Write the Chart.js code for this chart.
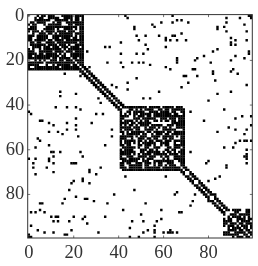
<!DOCTYPE html>
<html><head><meta charset="utf-8">
<script src="https://cdn.jsdelivr.net/npm/chart.js@4"></script>
<style>html,body{margin:0;padding:0;background:#fff}#c{display:block}</style>
</head><body><canvas id="c" width="258" height="266"></canvas>
<script>
const tickValues = [0,20,40,60,80];
const blocks = [[0,24],[41,69],[88,99]];
const bandOffsets = [1,2];
const bandGaps = [[70,71],[74,75],[81,82]];
const scatterA = [[16,26],[14,34],[14,36],[21,35],[12,41],[17,41],[21,41],[23,42],[23,27],[0,43],[1,44],[5,47],[6,47],[9,48],[11,49],[17,48],[21,46],[21,49],[17,51],[9,52],[13,52],[21,51]];
const scatterB = [[15,53],[22,54],[4,55],[5,56],[3,59],[9,58],[10,61],[11,61],[14,61],[23,61],[24,63],[11,63],[9,64],[9,65],[11,66],[0,64],[3,64],[2,66],[2,68],[8,68],[11,70],[3,71],[19,66],[20,66],[21,66],[24,73],[24,74],[20,74],[19,75],[18,78],[21,81],[16,82],[15,84],[5,84],[6,84],[1,88],[3,88],[5,87],[7,88],[10,90],[12,90],[13,90],[11,92],[13,92],[20,90],[18,92],[24,91],[1,94],[4,96],[7,97],[11,97],[19,96],[16,98],[17,98],[0,98],[0,99],[1,99]];
const scatterC = [[25,82],[26,82],[26,93],[25,90],[27,69],[27,70],[27,75],[28,48],[29,83],[30,71],[31,97],[32,68],[34,58],[34,90],[35,84],[37,51],[37,54],[38,80],[30,44],[33,44],[31,37],[32,39]];
const scatterD = [[43,72],[42,87],[47,78],[45,95],[46,92],[50,89],[51,92],[51,97],[52,84],[61,72],[59,87],[59,91],[57,92],[56,94],[56,96],[56,97],[60,97],[63,96],[63,97],[66,97],[65,80],[66,79],[67,88],[68,88],[72,85],[73,83],[74,80],[80,83],[53,96],[62,97],[64,97],[49,99],[45,99],[56,99],[87,91],[87,92],[87,93],[87,94],[87,97],[87,98]];
const holesA = [[0,2],[0,3],[0,5],[0,8],[0,13],[0,14],[0,20],[1,2],[1,4],[1,8],[1,14],[1,15],[2,11],[2,18],[3,9],[3,10],[3,15],[3,16],[4,15],[4,16],[5,6],[4,6],[4,5],[6,20],[6,15],[7,12],[7,17],[8,20],[9,22],[10,14],[11,16],[6,12],[13,19],[14,18],[4,17],[4,20],[13,20],[14,6],[1,20],[2,20],[7,21],[10,22],[12,22],[10,19],[14,23],[1,23],[2,23],[5,22],[2,10],[8,11],[3,8],[7,22],[13,17],[8,13],[4,8],[3,12],[1,7],[0,12],[9,20],[16,20],[6,22],[19,22],[17,18],[0,1],[5,7],[9,10],[15,17]];
const holesB = [[42,51],[42,56],[42,60],[43,63],[44,67],[45,48],[45,52],[46,58],[46,66],[47,55],[48,55],[48,56],[48,57],[48,58],[48,59],[48,60],[48,61],[48,62],[49,65],[50,59],[50,62],[47,51],[51,66],[52,55],[53,60],[54,65],[55,59],[55,62],[56,60],[56,64],[57,67],[59,60],[58,60],[59,61],[60,63],[61,66],[58,63],[57,63],[49,60],[49,61],[50,64],[48,63],[52,61],[53,63],[55,66],[44,64],[58,64],[60,66],[42,63],[43,67],[51,67],[43,46],[43,52],[42,44],[44,55],[47,66],[44,68],[42,47],[45,55],[46,50],[49,54],[50,53],[51,58],[53,56],[54,59],[52,64],[43,58],[46,62],[44,49],[47,60],[41,53],[41,59],[41,65],[47,58],[46,57],[51,56],[51,59],[47,63],[50,65],[55,65],[54,67],[59,64],[57,64],[57,66],[55,58],[65,66],[59,68],[55,67],[61,64],[60,67],[62,67],[44,46],[42,49],[43,53],[42,57],[43,66],[41,69],[47,49],[50,51],[47,54],[50,57],[51,68],[42,43],[45,46],[53,54],[57,58],[63,64],[66,67]];
const holesC = [[88,88],[88,89],[88,90],[88,91],[88,94],[88,95],[88,96],[88,99],[89,89],[89,93],[90,95],[91,97],[92,94],[93,96],[91,92],[92,99],[94,98],[96,99],[89,99],[90,99],[90,97],[95,98]];
const cellSet = new Set();
blocks.forEach(([a,b]) => { for (let r=a;r<=b;r++) for (let c=a;c<=b;c++) cellSet.add(r*100+c); });
for (let i=0;i<100;i++) bandOffsets.forEach(o => { if (i+o<100){ cellSet.add(i*100+i+o); cellSet.add((i+o)*100+i);} });
[scatterA,scatterB,scatterC,scatterD].flat().forEach(([r,c]) => { cellSet.add(r*100+c); cellSet.add(c*100+r); });
[holesA,holesB,holesC,bandGaps].flat().forEach(([r,c]) => { cellSet.delete(r*100+c); cellSet.delete(c*100+r); });
for (let i=0;i<100;i++) cellSet.delete(i*100+i);
const cells = [...cellSet].map(k => ({x:k%100, y:Math.floor(k/100)}));

const frame = {
  id:'frame',
  afterDatasetsDraw(chart){
    const {ctx,chartArea:a,scales:{x,y}} = chart;
    ctx.save();
    ctx.strokeStyle='#333'; ctx.lineWidth=1;
    ctx.strokeRect(a.left,a.top,a.right-a.left,a.bottom-a.top);
    ctx.lineWidth=0.7;
    ctx.beginPath();
    tickValues.forEach(v=>{
      const px=x.getPixelForValue(v), py=y.getPixelForValue(v);
      ctx.moveTo(px,a.top);ctx.lineTo(px,a.top+2.5);
      ctx.moveTo(px,a.bottom);ctx.lineTo(px,a.bottom-2.5);
      ctx.moveTo(a.left,py);ctx.lineTo(a.left+2.5,py);
      ctx.moveTo(a.right,py);ctx.lineTo(a.right-2.5,py);
    });
    ctx.stroke();
    ctx.restore();
  }
};
const tickFont = {family:'"Liberation Serif"',size:18.5};
new Chart(document.getElementById('c'),{
  type:'scatter',
  data:{datasets:[{data:cells,pointStyle:'rect',pointRadius:1.72,pointBorderWidth:0,backgroundColor:'#000',pointHoverRadius:1.72}]},
  options:{
    responsive:false,animation:false,
    layout:{padding:{left:0,top:14,right:5.7,bottom:0}},
    plugins:{legend:{display:false},tooltip:{enabled:false}},
    events:[],
    scales:{
      x:{type:'linear',min:-0.5,max:99.5,
        grid:{display:false,drawTicks:false},border:{display:false},
        afterBuildTicks(s){s.ticks=tickValues.map(v=>({value:v}));},
        afterFit(s){s.height=28;},
        ticks:{autoSkip:false,maxRotation:0,color:'#333',font:tickFont,padding:4,callback:v=>String(v)}},
      y:{type:'linear',reverse:true,min:-0.5,max:99.5,
        grid:{display:false,drawTicks:false},border:{display:false},
        afterBuildTicks(s){s.ticks=tickValues.map(v=>({value:v}));},
        afterFit(s){s.width=27.7;},
        ticks:{autoSkip:false,color:'#333',font:tickFont,padding:3.5,callback:v=>String(v)}}
    }
  },
  plugins:[frame]
});
</script></body></html>
